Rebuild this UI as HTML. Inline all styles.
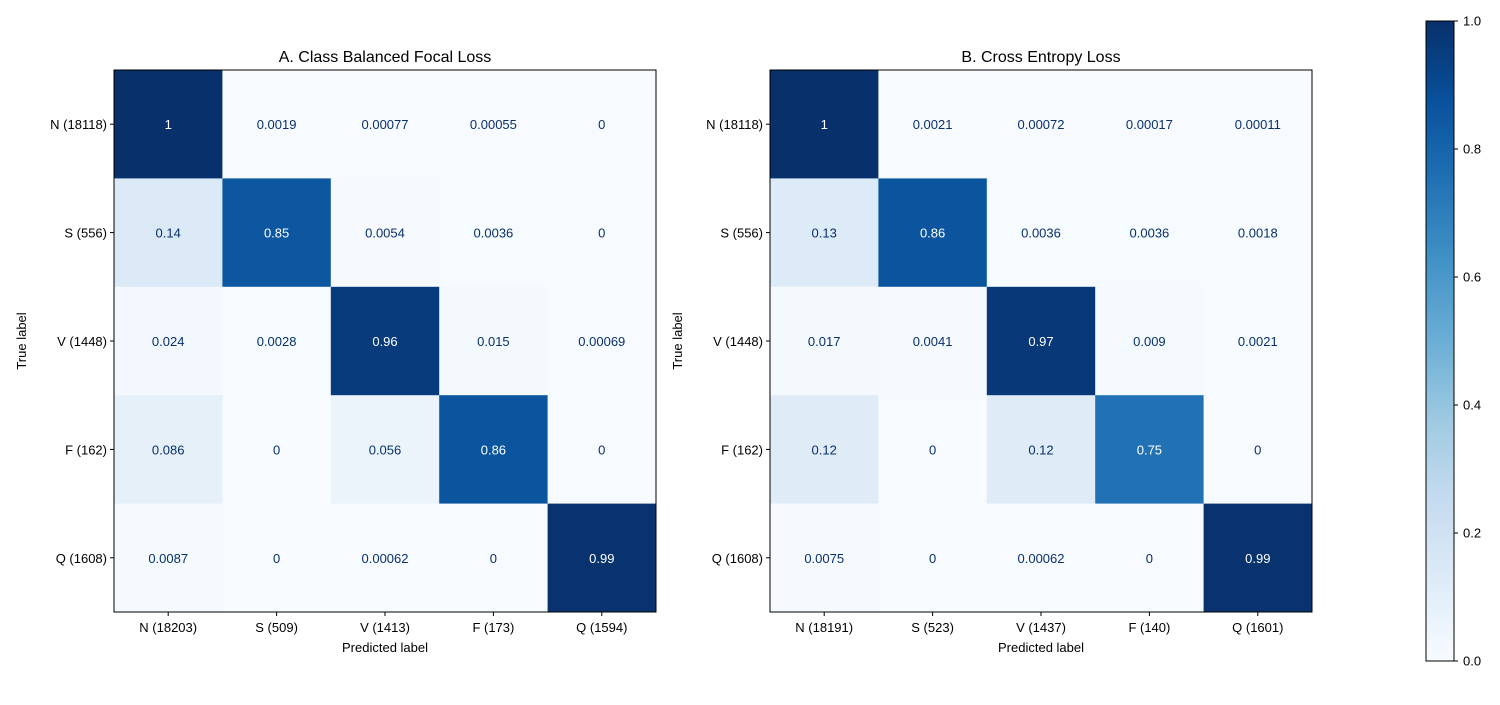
<!DOCTYPE html>
<html><head><meta charset="utf-8"><style>
body{margin:0;background:#fff;}
svg{font-family:"Liberation Sans","DejaVu Sans",sans-serif;}
</style></head><body>
<svg id="chart" width="1500" height="700" viewBox="0 0 1500 700" xmlns="http://www.w3.org/2000/svg">
<defs><linearGradient id="blues" x1="0" y1="1" x2="0" y2="0">
<stop offset="0" stop-color="#f7fbff"/><stop offset="0.125" stop-color="#deebf7"/><stop offset="0.25" stop-color="#c6dbef"/><stop offset="0.375" stop-color="#9ecae1"/><stop offset="0.5" stop-color="#6baed6"/><stop offset="0.625" stop-color="#4292c6"/><stop offset="0.75" stop-color="#2171b5"/><stop offset="0.875" stop-color="#08519c"/><stop offset="1" stop-color="#08306b"/>
</linearGradient></defs>
</svg>
<script>
const trueLabels = ["N (18118)","S (556)","V (1448)","F (162)","Q (1608)"];
const predLabelsA = ["N (18203)","S (509)","V (1413)","F (173)","Q (1594)"];
const predLabelsB = ["N (18191)","S (523)","V (1437)","F (140)","Q (1601)"];
const valuesA = [
 [1,0.0019,0.00077,0.00055,0],
 [0.14,0.85,0.0054,0.0036,0],
 [0.024,0.0028,0.96,0.015,0.00069],
 [0.086,0,0.056,0.86,0],
 [0.0087,0,0.00062,0,0.99]];
const valuesB = [
 [1,0.0021,0.00072,0.00017,0.00011],
 [0.13,0.86,0.0036,0.0036,0.0018],
 [0.017,0.0041,0.97,0.009,0.0021],
 [0.12,0,0.12,0.75,0],
 [0.0075,0,0.00062,0,0.99]];
const colorbarTicks = [0,0.2,0.4,0.6,0.8,1.0];

const svg=document.getElementById('chart');
const NS='http://www.w3.org/2000/svg';
function mk(tag,attrs,parent){const e=document.createElementNS(NS,tag);for(const k in attrs)e.setAttribute(k,attrs[k]);(parent||svg).appendChild(e);return e;}
const stops=[[247,251,255],[222,235,247],[198,219,239],[158,202,225],[107,174,214],[66,146,198],[33,113,181],[8,81,156],[8,48,107]];
function blues(v){v=Math.max(0,Math.min(1,v));const p=v*8,i=Math.min(7,Math.floor(p)),t=p-i;const a=stops[i],b=stops[i+1];return 'rgb('+a.map((c,k)=>Math.round(c+(b[k]-c)*t)).join(',')+')';}

function drawMatrix(x0,y0,size,title,vals,predLabels,key){
  const g=mk('g',{});
  
  
  const n=trueLabels.length,cs=size/n;
  vals.forEach((row,r)=>row.forEach((v,c)=>{
    const rect=mk('rect',{x:x0+c*cs,y:y0+r*cs,width:cs+0.5,height:cs+0.5,fill:blues(v)},g);
    
    
    const t=mk('text',{x:x0+(c+0.5)*cs,y:y0+(r+0.5)*cs+5,'text-anchor':'middle','font-size':13,fill:v>0.5?'#fff':'#08306b'},g);
    t.textContent=String(v);
    
    
  }));
  mk('rect',{x:x0,y:y0,width:size,height:size,fill:'none',stroke:'#000','stroke-width':1},g);
  const tt=mk('text',{x:x0+size/2,y:y0-8,'text-anchor':'middle','font-size':16},g);
  tt.textContent=title;
  
  
  trueLabels.forEach((l,i)=>{
    const y=y0+(i+0.5)*cs;
    mk('line',{x1:x0-4,x2:x0,y1:y,y2:y,stroke:'#000'},g);
    const t=mk('text',{x:x0-7,y:y+5,'text-anchor':'end','font-size':13},g);t.textContent=l;
    
    
  });
  predLabels.forEach((l,i)=>{
    const x=x0+(i+0.5)*cs;
    mk('line',{x1:x,x2:x,y1:y0+size,y2:y0+size+4,stroke:'#000'},g);
    const t=mk('text',{x:x,y:y0+size+20,'text-anchor':'middle','font-size':13},g);t.textContent=l;
    
    
  });
  const xl=mk('text',{x:x0+size/2,y:y0+size+40,'text-anchor':'middle','font-size':13},g);xl.textContent='Predicted label';
  
  
  const yl=mk('text',{x:0,y:0,'text-anchor':'middle','font-size':13,transform:'translate('+(x0-88)+','+(y0+size/2)+') rotate(-90)'},g);yl.textContent='True label';
  
  
}
drawMatrix(114,70,542,'A. Class Balanced Focal Loss',valuesA,predLabelsA,'a');
drawMatrix(770,70,542,'B. Cross Entropy Loss',valuesB,predLabelsB,'b');

const cb=mk('g',{});


const cbx=1426,cby0=21,cby1=661;
mk('rect',{x:cbx,y:cby0,width:28,height:cby1-cby0,fill:'url(#blues)',stroke:'#000','stroke-width':1},cb);
colorbarTicks.forEach(v=>{
  const y=cby1-v*(cby1-cby0);
  mk('line',{x1:cbx+28,x2:cbx+32,y1:y,y2:y,stroke:'#000'},cb);
  const t=mk('text',{x:cbx+37,y:y+4.5,'font-size':13},cb);t.textContent=v.toFixed(1);
  
  
});
</script>
</body></html>
